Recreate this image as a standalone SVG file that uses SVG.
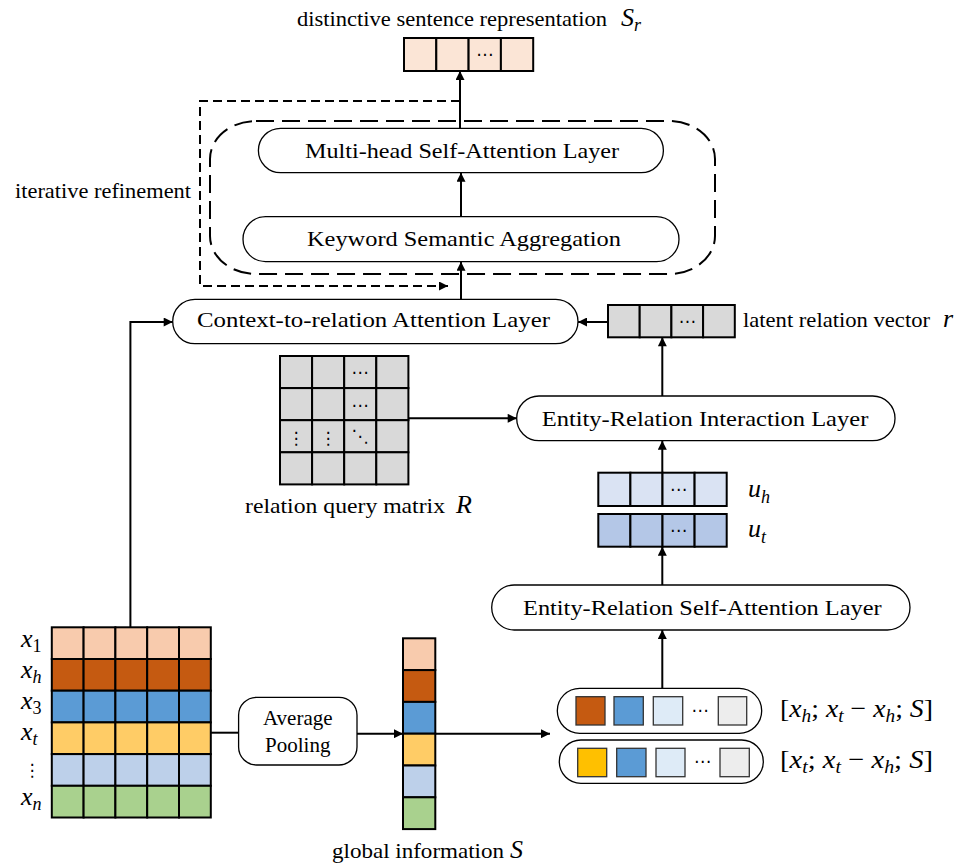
<svg xmlns="http://www.w3.org/2000/svg" width="970" height="864" viewBox="0 0 970 864">
<style>
.box{fill:#fff;stroke:#000;stroke-width:1.3}
.cell{stroke:#000;stroke-width:2}
.ln{fill:none;stroke:#000;stroke-width:2}
.t{font-family:"Liberation Serif",serif;font-size:21px;fill:#000}
.m{font-family:"Liberation Serif",serif;font-size:26px;fill:#000}
.i{font-style:italic}
.s{font-size:18px}
.d{font-family:"DejaVu Sans",sans-serif;font-size:17px;fill:#000;text-anchor:middle}
.peach{fill:#f8cbad}.rust{fill:#c55a11}.blue{fill:#5b9bd5}.yel{fill:#ffcc66}.lblue{fill:#bdd0ea}.green{fill:#a9d18e}
.gray{fill:#d9d9d9}
</style>
<defs>
<marker id="ah" viewBox="0 0 10 10" refX="10" refY="5" markerWidth="10" markerHeight="9" markerUnits="userSpaceOnUse" orient="auto"><path d="M0,0 L10,5 L0,10z" fill="#000"/></marker>
</defs>

<g id="sr-vector">
<g style="fill:#fbe5d6" class="cell">
<rect x="404" y="38" width="32.3" height="33"/>
<rect x="436.3" y="38" width="32.3" height="33"/>
<rect x="468.6" y="38" width="32.3" height="33"/>
<rect x="500.9" y="38" width="32.3" height="33"/>
</g>
<text class="d" x="484.7" y="60">⋯</text>
<text class="t" x="297" y="26" font-size="20" textLength="310" lengthAdjust="spacingAndGlyphs">distinctive sentence representation</text>
<text class="m" x="621" y="26"><tspan class="i">S</tspan><tspan class="i s" dy="5">r</tspan></text>
</g>

<g id="iterative-refinement">
<path class="ln" d="M460,101 H200 V286 H448" stroke-dasharray="9 5" marker-end="url(#ah)"/>
<text class="t" x="15" y="198" textLength="176" lengthAdjust="spacingAndGlyphs">iterative refinement</text>
</g>

<g id="refinement-block">
<rect x="210" y="121" width="505" height="153" rx="46" ry="38" fill="none" stroke="#000" stroke-width="2" stroke-dasharray="18 8"/>
</g>

<g id="multi-head">
<rect class="box" x="258.4" y="128.3" width="405" height="44.4" rx="22.2"/>
<text class="t" x="305" y="158.3" textLength="314" lengthAdjust="spacingAndGlyphs">Multi-head Self-Attention Layer</text>
</g>

<g id="keyword">
<rect class="box" x="243" y="216.7" width="436" height="45" rx="22.5"/>
<text class="t" x="307" y="246" textLength="314" lengthAdjust="spacingAndGlyphs">Keyword Semantic Aggregation</text>
</g>

<g id="context">
<rect class="box" x="172.7" y="299.3" width="405.3" height="44.4" rx="22.2"/>
<text class="t" x="197" y="327" textLength="353" lengthAdjust="spacingAndGlyphs">Context-to-relation Attention Layer</text>
</g>

<g id="latent-vector">
<g class="cell gray">
<rect x="608" y="305" width="31.7" height="32.3"/>
<rect x="639.7" y="305" width="31.7" height="32.3"/>
<rect x="671.4" y="305" width="31.7" height="32.3"/>
<rect x="703.1" y="305" width="31.7" height="32.3"/>
</g>
<text class="d" x="687.2" y="327">⋯</text>
<text class="t" x="743" y="327" textLength="187" lengthAdjust="spacingAndGlyphs">latent relation vector</text>
<text class="m i" x="943" y="327">r</text>
</g>

<g id="relation-matrix">
<g class="cell gray">
<rect x="280" y="356" width="32.1" height="32.1"/><rect x="312.1" y="356" width="32.1" height="32.1"/><rect x="344.2" y="356" width="32.1" height="32.1"/><rect x="376.3" y="356" width="32.1" height="32.1"/>
<rect x="280" y="388.1" width="32.1" height="32.1"/><rect x="312.1" y="388.1" width="32.1" height="32.1"/><rect x="344.2" y="388.1" width="32.1" height="32.1"/><rect x="376.3" y="388.1" width="32.1" height="32.1"/>
<rect x="280" y="420.2" width="32.1" height="32.1"/><rect x="312.1" y="420.2" width="32.1" height="32.1"/><rect x="344.2" y="420.2" width="32.1" height="32.1"/><rect x="376.3" y="420.2" width="32.1" height="32.1"/>
<rect x="280" y="452.3" width="32.1" height="32.1"/><rect x="312.1" y="452.3" width="32.1" height="32.1"/><rect x="344.2" y="452.3" width="32.1" height="32.1"/><rect x="376.3" y="452.3" width="32.1" height="32.1"/>
</g>
<text class="d" x="360" y="378">⋯</text>
<text class="d" x="360" y="411">⋯</text>
<text class="d" x="296" y="444" font-size="26">⋮</text>
<text class="d" x="328" y="444" font-size="26">⋮</text>
<text class="d" x="360" y="442" font-size="18">⋱</text>
<text class="t" x="245" y="512.7" textLength="200" lengthAdjust="spacingAndGlyphs">relation query matrix</text>
<text class="m i" x="456" y="512.7">R</text>
</g>

<g id="interaction">
<rect class="box" x="516.7" y="396" width="378.3" height="44.7" rx="22.3"/>
<text class="t" x="541.7" y="426" textLength="326.6" lengthAdjust="spacingAndGlyphs">Entity-Relation Interaction Layer</text>
</g>

<g id="uh-vector">
<g class="cell" style="fill:#dae3f3">
<rect x="598.3" y="472.7" width="32.1" height="33.3"/><rect x="630.4" y="472.7" width="32.1" height="33.3"/><rect x="662.5" y="472.7" width="32.1" height="33.3"/><rect x="694.6" y="472.7" width="32.1" height="33.3"/>
</g>
<text class="d" x="678.5" y="495">⋯</text>
<text class="m" x="748" y="497"><tspan class="i">u</tspan><tspan class="i s" dy="6">h</tspan></text>
</g>

<g id="ut-vector">
<g class="cell" style="fill:#b4c7e7">
<rect x="598.3" y="514" width="32.1" height="32.7"/><rect x="630.4" y="514" width="32.1" height="32.7"/><rect x="662.5" y="514" width="32.1" height="32.7"/><rect x="694.6" y="514" width="32.1" height="32.7"/>
</g>
<text class="d" x="678.5" y="536">⋯</text>
<text class="m" x="748" y="537"><tspan class="i">u</tspan><tspan class="i s" dy="6">t</tspan></text>
</g>

<g id="er-self-attention">
<rect class="box" x="491.7" y="585" width="418.3" height="45" rx="22.5"/>
<text class="t" x="523" y="615" textLength="358.7" lengthAdjust="spacingAndGlyphs">Entity-Relation Self-Attention Layer</text>
</g>

<g id="capsule-h">
<rect class="box" x="557.3" y="688.3" width="204.4" height="45" rx="22.5"/>
<rect x="576" y="696.7" width="29" height="28.3" fill="#c55a11" stroke="#333" stroke-width="1.3"/>
<rect x="614" y="696.7" width="29.3" height="28.3" fill="#5b9bd5" stroke="#333" stroke-width="1.3"/>
<rect x="653.3" y="696.7" width="29.4" height="28.3" fill="#deebf7" stroke="#333" stroke-width="1.3"/>
<text class="d" x="700" y="716">⋯</text>
<rect x="718.3" y="696.7" width="28.4" height="28.3" fill="#ededed" stroke="#333" stroke-width="1.3"/>
<text class="m" x="780" y="717" textLength="153" lengthAdjust="spacingAndGlyphs">[<tspan class="i">x</tspan><tspan class="i s" dy="5">h</tspan><tspan dy="-5">; </tspan><tspan class="i">x</tspan><tspan class="i s" dy="5">t</tspan><tspan dy="-5"> − </tspan><tspan class="i">x</tspan><tspan class="i s" dy="5">h</tspan><tspan dy="-5">; </tspan><tspan class="i">S</tspan>]</text>
</g>

<g id="capsule-t">
<rect class="box" x="559.3" y="740" width="204" height="43.3" rx="21.6"/>
<rect x="577.7" y="748.3" width="29" height="28.4" fill="#ffc000" stroke="#333" stroke-width="1.3"/>
<rect x="616.7" y="748.3" width="29.3" height="28.4" fill="#5b9bd5" stroke="#333" stroke-width="1.3"/>
<rect x="656" y="748.3" width="29" height="28.4" fill="#deebf7" stroke="#333" stroke-width="1.3"/>
<text class="d" x="702.5" y="767">⋯</text>
<rect x="720" y="748.3" width="29.3" height="28.4" fill="#ededed" stroke="#333" stroke-width="1.3"/>
<text class="m" x="780" y="768" textLength="153" lengthAdjust="spacingAndGlyphs">[<tspan class="i">x</tspan><tspan class="i s" dy="5">t</tspan><tspan dy="-5">; </tspan><tspan class="i">x</tspan><tspan class="i s" dy="5">t</tspan><tspan dy="-5"> − </tspan><tspan class="i">x</tspan><tspan class="i s" dy="5">h</tspan><tspan dy="-5">; </tspan><tspan class="i">S</tspan>]</text>
</g>

<g id="input-matrix">
<g class="cell">
<g class="peach"><rect x="51.8" y="627.3" width="31.8" height="31.7"/><rect x="83.6" y="627.3" width="31.8" height="31.7"/><rect x="115.4" y="627.3" width="31.8" height="31.7"/><rect x="147.2" y="627.3" width="31.8" height="31.7"/><rect x="179" y="627.3" width="31.8" height="31.7"/></g>
<g class="rust"><rect x="51.8" y="659" width="31.8" height="31.7"/><rect x="83.6" y="659" width="31.8" height="31.7"/><rect x="115.4" y="659" width="31.8" height="31.7"/><rect x="147.2" y="659" width="31.8" height="31.7"/><rect x="179" y="659" width="31.8" height="31.7"/></g>
<g class="blue"><rect x="51.8" y="690.7" width="31.8" height="31.7"/><rect x="83.6" y="690.7" width="31.8" height="31.7"/><rect x="115.4" y="690.7" width="31.8" height="31.7"/><rect x="147.2" y="690.7" width="31.8" height="31.7"/><rect x="179" y="690.7" width="31.8" height="31.7"/></g>
<g class="yel"><rect x="51.8" y="722.4" width="31.8" height="31.7"/><rect x="83.6" y="722.4" width="31.8" height="31.7"/><rect x="115.4" y="722.4" width="31.8" height="31.7"/><rect x="147.2" y="722.4" width="31.8" height="31.7"/><rect x="179" y="722.4" width="31.8" height="31.7"/></g>
<g class="lblue"><rect x="51.8" y="754.1" width="31.8" height="31.7"/><rect x="83.6" y="754.1" width="31.8" height="31.7"/><rect x="115.4" y="754.1" width="31.8" height="31.7"/><rect x="147.2" y="754.1" width="31.8" height="31.7"/><rect x="179" y="754.1" width="31.8" height="31.7"/></g>
<g class="green"><rect x="51.8" y="785.8" width="31.8" height="31.7"/><rect x="83.6" y="785.8" width="31.8" height="31.7"/><rect x="115.4" y="785.8" width="31.8" height="31.7"/><rect x="147.2" y="785.8" width="31.8" height="31.7"/><rect x="179" y="785.8" width="31.8" height="31.7"/></g>
</g>
<text class="m" x="21" y="647"><tspan class="i">x</tspan><tspan class="s" dy="5">1</tspan></text>
<text class="m" x="21" y="678"><tspan class="i">x</tspan><tspan class="i s" dy="5">h</tspan></text>
<text class="m" x="21" y="709"><tspan class="i">x</tspan><tspan class="s" dy="5">3</tspan></text>
<text class="m" x="21" y="740"><tspan class="i">x</tspan><tspan class="i s" dy="5">t</tspan></text>
<text class="d" x="32" y="776" font-size="19">⋮</text>
<text class="m" x="21" y="805"><tspan class="i">x</tspan><tspan class="i s" dy="5">n</tspan></text>
</g>

<g id="average-pooling">
<rect class="box" x="238.6" y="697.3" width="118.4" height="67.7" rx="18"/>
<text class="t" x="297.8" y="725" text-anchor="middle" font-size="22">Average</text>
<text class="t" x="297.8" y="752" text-anchor="middle" font-size="22">Pooling</text>
</g>

<g id="global-vector">
<g class="cell">
<rect class="peach" x="403" y="638.3" width="32.3" height="31.8"/>
<rect class="rust" x="403" y="670.1" width="32.3" height="31.8"/>
<rect class="blue" x="403" y="701.9" width="32.3" height="31.8"/>
<rect class="yel" x="403" y="733.7" width="32.3" height="31.8"/>
<rect class="lblue" x="403" y="765.5" width="32.3" height="31.8"/>
<rect class="green" x="403" y="797.3" width="32.3" height="31.8"/>
</g>
<text class="t" x="332" y="858" textLength="172" lengthAdjust="spacingAndGlyphs">global information</text>
<text class="m i" x="510" y="858">S</text>
</g>

<g id="connectors" class="ln">
<path d="M460,128.3 V71" marker-end="url(#ah)"/>
<path d="M461,216.7 V172.7" marker-end="url(#ah)"/>
<path d="M461,299.3 V261.7" marker-end="url(#ah)"/>
<path d="M130.4,627.3 V322 H172.7" marker-end="url(#ah)"/>
<path d="M608,322 H578" marker-end="url(#ah)"/>
<path d="M662.3,396 V337.3" marker-end="url(#ah)"/>
<path d="M408.4,418.3 H516.7" marker-end="url(#ah)"/>
<path d="M662.3,472.7 V440.7" marker-end="url(#ah)"/>
<path d="M662.3,585 V546.7" marker-end="url(#ah)"/>
<path d="M662.3,688.3 V630" marker-end="url(#ah)"/>
<path d="M210.8,732.7 H238.6"/>
<path d="M357,733.7 H403" marker-end="url(#ah)"/>
<path d="M435.3,733.7 H550" marker-end="url(#ah)"/>
</g>
</svg>
